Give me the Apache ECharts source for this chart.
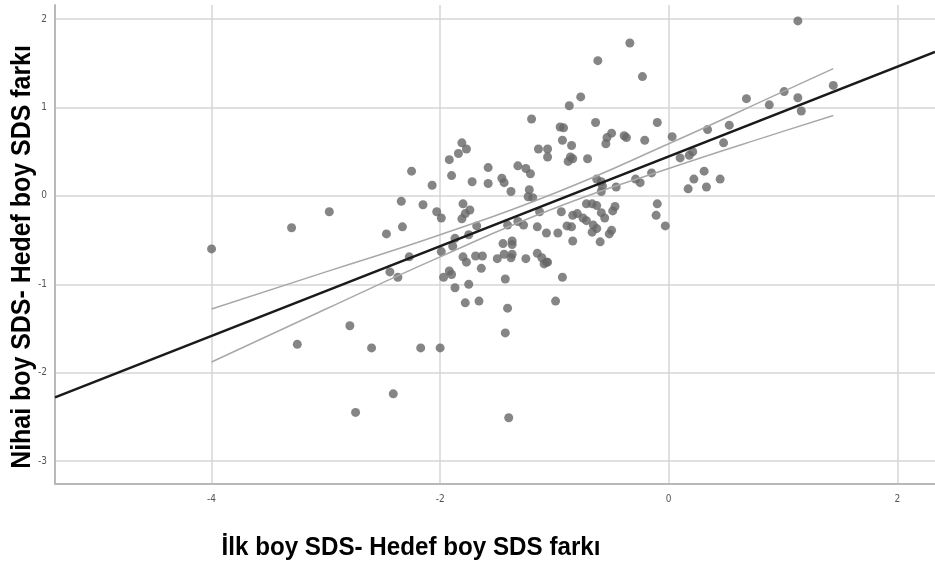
<!DOCTYPE html>
<html>
<head>
<meta charset="utf-8">
<script src="https://cdn.jsdelivr.net/npm/echarts@6/dist/echarts.min.js"></script>
<style>
html,body{margin:0;padding:0;background:#fff;}
#chart{width:935px;height:566px;}
</style>
</head>
<body>
<div id="chart"></div>
<script>
// Observations: [İlk boy SDS - Hedef boy SDS farkı, Nihai boy SDS - Hedef boy SDS farkı]
const observations = [
[-4.00,-0.60],[-3.30,-0.36],[-3.25,-1.68],[-2.97,-0.18],[-2.47,-0.43],[-2.44,-0.86],[-2.37,-0.92],
[-2.34,-0.06],[-2.33,-0.35],[-2.25,0.28],[-2.27,-0.69],[-2.15,-0.10],[-2.07,0.12],[-2.03,-0.18],
[-1.99,-0.25],[-1.92,0.41],[-1.90,0.23],[-1.84,0.48],[-1.81,0.60],[-1.77,0.53],[-1.81,-0.26],
[-1.80,-0.09],[-1.74,-0.16],[-1.78,-0.20],[-1.72,0.16],[-1.68,-0.34],[-1.58,0.32],[-1.58,0.14],
[-1.46,0.20],[-1.44,0.15],[-1.38,0.05],[-1.32,0.34],[-1.25,0.31],[-1.21,0.25],[-1.22,0.07],
[-1.23,-0.01],[-1.19,-0.02],[-1.20,0.87],[-1.14,0.53],[-1.06,0.53],[-1.06,0.44],[-0.95,0.78],
[-0.92,0.77],[-0.93,0.63],[-0.85,0.57],[-0.87,1.02],[-0.77,1.12],[-0.62,1.53],[-0.64,0.83],
[-0.86,0.44],[-0.88,0.39],[-0.84,0.42],[-0.71,0.42],[-0.50,0.71],[-0.54,0.66],[-0.55,0.59],
[-0.39,0.68],[-0.37,0.66],[-0.21,0.63],[0.03,0.67],[-0.34,1.73],[-0.23,1.35],[-0.10,0.83],
[0.10,0.43],[0.18,0.46],[0.21,0.50],[-0.15,0.26],[-0.29,0.19],[-0.25,0.15],[-0.46,0.10],
[0.22,0.19],[0.17,0.08],[0.31,0.28],[0.45,0.19],[0.33,0.10],[0.34,0.75],[0.53,0.80],
[0.48,0.60],[0.68,1.10],[0.88,1.03],[1.01,1.18],[1.13,1.11],[1.16,0.96],[1.44,1.25],
[1.13,1.98],[-0.63,0.19],[-0.59,0.16],[-0.58,0.11],[-0.59,0.05],[-0.10,-0.09],[-0.11,-0.22],
[-0.03,-0.34],[-0.94,-0.18],[-0.72,-0.09],[-0.67,-0.09],[-0.63,-0.11],[-0.59,-0.19],[-0.56,-0.25],
[-0.47,-0.12],[-0.49,-0.17],[-0.84,-0.22],[-0.80,-0.20],[-0.75,-0.25],[-0.72,-0.28],[-0.89,-0.34],
[-0.85,-0.35],[-0.66,-0.33],[-0.63,-0.37],[-0.67,-0.41],[-0.50,-0.39],[-0.52,-0.43],[-0.60,-0.52],
[-0.84,-0.51],[-1.07,-0.42],[-0.97,-0.42],[-1.07,-0.75],[-0.93,-0.92],[-0.99,-1.19],[-1.41,-0.33],
[-1.32,-0.29],[-1.27,-0.33],[-1.15,-0.35],[-1.13,-0.18],[-1.87,-0.48],[-1.75,-0.44],[-1.89,-0.57],
[-1.99,-0.63],[-1.45,-0.54],[-1.37,-0.51],[-1.37,-0.55],[-1.44,-0.66],[-1.37,-0.66],[-1.38,-0.70],
[-1.50,-0.71],[-1.69,-0.68],[-1.63,-0.68],[-1.80,-0.69],[-1.77,-0.75],[-1.64,-0.82],[-1.25,-0.71],
[-1.15,-0.65],[-1.11,-0.70],[-1.09,-0.77],[-1.06,-0.75],[-1.92,-0.85],[-1.97,-0.92],[-1.90,-0.89],
[-1.87,-1.04],[-1.75,-1.00],[-1.43,-0.94],[-1.78,-1.21],[-1.66,-1.19],[-1.41,-1.27],[-1.43,-1.55],
[-2.79,-1.47],[-2.60,-1.72],[-2.17,-1.72],[-2.00,-1.72],[-2.41,-2.24],[-2.74,-2.45],[-1.40,-2.51]
];

// Fit line (read at the plot edges)
const fitX = [-5.37, 2.33];
const fitY = [-2.28, 1.63];

// Confidence band lines
const bandX = [-4, -3, -2, -1, 0, 1, 1.44];
const bandUpper = [-1.28, -0.86, -0.44, 0.03, 0.59, 1.18, 1.44];
const bandLower = [-1.88, -1.28, -0.69, -0.14, 0.31, 0.73, 0.91];

const xTitle = 'İlk boy SDS- Hedef boy SDS farkı';
const yTitle = 'Nihai boy SDS- Hedef boy SDS farkı';

const zip = (a, b) => a.map((v, i) => [v, b[i]]);

const chart = echarts.init(document.getElementById('chart'), null, {renderer: 'canvas'});
const labelFont = "'Liberation Sans Narrow','DejaVu Sans Condensed','Roboto',sans-serif";
const titleFont = "'Liberation Sans','Arial',sans-serif";

chart.setOption({
  animation: false,
  backgroundColor: '#ffffff',
  grid: {left: 55, right: 0, top: 5, bottom: 82, containLabel: false},
  xAxis: {
    type: 'value', min: -5.37, max: 2.33, minInterval: 2, maxInterval: 2,
    axisLine: {show: true, onZero: false, lineStyle: {color: '#b8b8b8', width: 2}},
    axisTick: {show: false},
    axisLabel: {color: '#555', fontSize: 10, fontFamily: labelFont, margin: 10, showMinLabel: false, showMaxLabel: false},
    splitLine: {show: true, showMinLine: false, showMaxLine: false, lineStyle: {color: '#d6d6d6', width: 1.5}}
  },
  yAxis: {
    type: 'value', min: -3.26, max: 2.16, minInterval: 1, maxInterval: 1,
    axisLine: {show: true, onZero: false, lineStyle: {color: '#b8b8b8', width: 2}},
    axisTick: {show: false},
    axisLabel: {color: '#555', fontSize: 10, fontFamily: labelFont, margin: 8, showMinLabel: false, showMaxLabel: false},
    splitLine: {show: true, showMinLine: false, showMaxLine: false, lineStyle: {color: '#d6d6d6', width: 1.5}}
  },
  series: [
    {
      type: 'line', data: zip(bandX, bandUpper), smooth: true, symbol: 'none',
      lineStyle: {color: '#a8a8a8', width: 1.5}, z: 3
    },
    {
      type: 'line', data: zip(bandX, bandLower), smooth: true, symbol: 'none',
      lineStyle: {color: '#a8a8a8', width: 1.5}, z: 3
    },
    {
      type: 'scatter', data: observations, symbol: 'circle', symbolSize: 9,
      itemStyle: {color: '#666666'}, z: 2
    },
    {
      type: 'line', data: zip(fitX, fitY), symbol: 'none',
      lineStyle: {color: '#1a1a1a', width: 2.5}, z: 4
    }
  ],
  graphic: [
    {
      type: 'text', x: 22, y: 257, rotation: Math.PI / 2, scaleX: 0.89, scaleY: 1,
      style: {text: yTitle, fill: '#000', font: "bold 28px " + titleFont, textAlign: 'center', textVerticalAlign: 'middle'}
    },
    {
      type: 'text', x: 411, y: 548, scaleX: 0.93, scaleY: 1,
      style: {text: xTitle, fill: '#000', font: "bold 26px " + titleFont, textAlign: 'center', textVerticalAlign: 'middle'}
    }
  ]
});
</script>
</body>
</html>
